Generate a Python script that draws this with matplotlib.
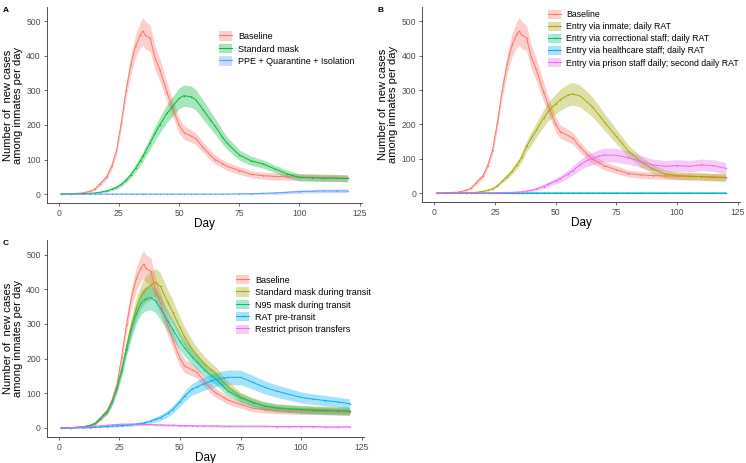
import matplotlib
matplotlib.use("Agg")
import matplotlib.pyplot as plt
from matplotlib.patches import Patch
from matplotlib.lines import Line2D

plt.rcParams['font.family'] = ['Liberation Sans', 'DejaVu Sans']

days = [1, 5, 10, 13, 15, 17, 20, 22, 24, 26, 28, 30, 32, 34, 35, 36, 38, 40, 42, 45,
        47, 50, 52, 55, 57, 60, 63, 65, 68, 70, 75, 80, 85, 90, 95, 100, 105, 110, 115, 120]

baseline = [0, 1, 3, 8, 14, 28, 50, 80, 125, 205, 300, 375, 430, 462, 472, 460, 452, 395, 360, 295,
            255, 200, 178, 168, 160, 135, 112, 100, 88, 80, 68, 57, 53, 51, 50, 49, 49, 48, 47, 46]
baseline_hw = [0.5, 1, 2, 3, 4, 6, 8, 10, 13, 18, 22, 28, 33, 38, 40, 40, 38, 35, 32, 28,
               25, 22, 20, 18, 17, 15, 14, 13, 12, 12, 11, 10, 10, 10, 10, 10, 10, 10, 10, 10]

# panel A
std_mask = [0, 0, 1, 2, 3, 5, 9, 14, 19, 28, 40, 56, 75, 97, 109, 122, 148, 176, 200, 234,
            251, 277, 285, 282, 273, 244, 215, 196, 165, 147, 113, 96, 87, 72, 58, 48, 47, 46, 46, 45]
std_mask_hw = [0.5, 0.5, 1, 1, 1, 2, 3, 4, 5, 6, 7, 9, 11, 13, 14, 15, 18, 20, 23, 26,
               28, 30, 31, 31, 30, 28, 25, 23, 20, 18, 15, 13, 12, 11, 11, 10, 10, 10, 10, 10]
ppe = [0, 0, 0, 0, 0, 0, 0, 0, 0, 0, 0, 0, 0, 0, 0, 0, 0, 0, 0, 0,
       0, 0, 0, 0, 0, 0, 0, 0, 0, 0, 0.5, 1, 2, 3, 5, 7, 8, 9, 9, 9]
ppe_hw = [1, 1, 1, 1, 1, 1, 1, 1, 1, 1, 1, 1, 1, 1, 1, 1, 1, 1, 1, 1,
          1, 1, 1, 1, 1, 1, 1, 1, 1, 1, 2, 3, 3, 4, 4, 5, 5, 5, 5, 5]

# panel B
entry_inmate = [0, 0, 0, 1, 1, 2, 5, 8, 13, 21, 35, 48, 63, 82, 92, 104, 136, 160, 183, 218,
                238, 260, 272, 285, 289, 283, 265, 252, 226, 208, 165, 122, 92, 70, 56, 51, 49, 48, 46, 45]
entry_inmate_hw = [0.5, 0.5, 0.5, 1, 1, 1, 2, 2, 3, 4, 6, 7, 9, 11, 12, 13, 16, 19, 21, 25,
                   27, 29, 31, 32, 33, 32, 30, 29, 27, 25, 21, 18, 15, 13, 12, 11, 11, 11, 11, 11]
entry_correctional = [0, 0, 0, 0, 0, 0, 0, 0, 0, 0, 0, 0, 0, 0, 0, 0, 0, 0, 0, 0,
                      0, 0, 0, 0, 0, 0, 0, 0, 0, 0, 0, 0, 0, 0, 0, 0, 0, 0, 0, 0]
entry_healthcare = [0, 0, 0, 0, 0, 0, 0, 0, 0, 0, 0, 0, 0, 0, 0, 0, 0, 0, 0, 0,
                    0, 0, 0, 0, 0, 0, 0, 0, 0, 0, 0, 0, 0, 0, 0, 0, 0, 0, 0, 0]
zero_hw = [3, 3, 3, 3, 3, 3, 3, 3, 3, 3, 3, 3, 3, 3, 3, 3, 3, 3, 3, 3,
           3, 3, 3, 3, 3, 3, 3, 3, 3, 3, 3, 3, 3, 3, 3, 3, 3, 3, 3, 3]
entry_prison = [0, 0, 0, 0, 0, 0, 0, 0, 1, 1, 1, 2, 2, 3, 3, 4, 6, 8, 12, 19,
                26, 35, 42, 55, 65, 82, 95, 100, 108, 111, 110, 103, 92, 82, 78, 80, 78, 82, 80, 72]
entry_prison_hw = [0.5, 0.5, 0.5, 0.5, 0.5, 0.5, 1, 1, 1, 1, 1, 2, 2, 2, 2, 2, 3, 4, 5, 6,
                   7, 9, 10, 12, 13, 15, 17, 18, 19, 20, 20, 19, 18, 17, 17, 17, 17, 17, 17, 17]

# panel C
std_transit = [0, 1, 3, 7, 13, 26, 47, 75, 115, 170, 235, 295, 345, 380, 392, 400, 412, 420, 408, 362,
               335, 290, 262, 228, 210, 186, 168, 157, 132, 118, 90, 75, 64, 59, 56, 54, 53, 52, 51, 50]
std_transit_hw = [0.5, 1, 2, 3, 4, 5, 7, 10, 13, 17, 21, 26, 31, 35, 37, 38, 40, 40, 39, 36,
                  34, 30, 28, 25, 23, 21, 19, 18, 16, 15, 13, 12, 12, 11, 11, 11, 11, 11, 11, 11]
n95_transit = [0, 1, 3, 7, 13, 26, 47, 75, 115, 165, 228, 285, 330, 360, 368, 373, 376, 366, 345, 308,
               285, 250, 230, 205, 190, 168, 150, 140, 118, 106, 87, 73, 63, 57, 55, 53, 51, 50, 49, 48]
n95_transit_hw = [0.5, 1, 2, 3, 4, 5, 7, 10, 13, 17, 21, 25, 29, 32, 34, 35, 35, 34, 33, 30,
                  28, 26, 24, 22, 21, 19, 17, 16, 15, 14, 13, 12, 12, 11, 11, 11, 11, 11, 11, 11]
rat_pre = [0, 0, 1, 1, 2, 3, 4, 5, 6, 7, 8, 9, 11, 13, 14, 16, 20, 25, 30, 42,
           53, 75, 92, 112, 118, 128, 136, 140, 144, 146, 146, 132, 117, 106, 97, 88, 83, 79, 75, 70]
rat_pre_hw = [0.5, 0.5, 1, 1, 1, 2, 2, 2, 3, 3, 3, 4, 4, 5, 5, 5, 6, 7, 8, 10,
              11, 13, 15, 17, 18, 19, 20, 20, 21, 21, 21, 20, 19, 18, 17, 16, 15, 15, 14, 14]
restrict = [0, 1, 2, 3, 5, 6, 8, 9, 10, 11, 11, 11, 11, 11, 10, 10, 10, 9, 9, 8,
            8, 7, 7, 7, 6, 6, 6, 6, 5, 5, 5, 5, 5, 4, 4, 4, 4, 3, 3, 3]
restrict_hw = [0.5, 1, 1, 2, 2, 2, 3, 3, 3, 3, 3, 3, 3, 3, 3, 3, 3, 3, 3, 3,
               3, 3, 3, 3, 3, 3, 3, 3, 3, 3, 3, 3, 3, 3, 3, 3, 3, 3, 3, 3]

labels_a = ["Baseline", "Standard mask", "PPE + Quarantine + Isolation"]
labels_b = ["Baseline", "Entry via inmate; daily RAT", "Entry via correctional staff; daily RAT",
            "Entry via healthcare staff; daily RAT", "Entry via prison staff daily; second daily RAT"]
labels_c = ["Baseline", "Standard mask during transit", "N95 mask during transit",
            "RAT pre-transit", "Restrict prison transfers"]

cols3 = ['#F8766D', '#00BA38', '#619CFF']
cols5 = ['#F8766D', '#A3A500', '#00BF7D', '#00B0F6', '#E76BF3']

YLAB = "Number of  new cases\namong inmates per day"


def draw_panel(ax, series, hws, labels, colors, tag, leg_anchor, leg_size):
    for y, hw, c in zip(series, hws, colors):
        lo = [v - h for v, h in zip(y, hw)]
        hi = [v + h for v, h in zip(y, hw)]
        ax.fill_between(days, lo, hi, color=c, alpha=0.35, lw=0)
    for y, c in zip(series, colors):
        ax.plot(days, y, color=c, lw=0.7, marker='o', ms=1.0, mew=0)

    ax.set_xlim(-4.95, 125.95)
    ax.set_ylim(-26, 542)
    ax.set_xticks([0, 25, 50, 75, 100, 125])
    ax.set_yticks([0, 100, 200, 300, 400, 500])
    for s in ['top', 'right']:
        ax.spines[s].set_visible(False)
    for s in ['left', 'bottom']:
        ax.spines[s].set_linewidth(0.6)
        ax.spines[s].set_color('#333333')
    ax.tick_params(labelsize=6.2, labelcolor='#4D4D4D', length=2.5, width=0.5,
                   color='#333333', pad=1.8)
    ax.set_xlabel("Day", fontsize=8.5, labelpad=0)
    ax.set_ylabel(YLAB, fontsize=8, labelpad=2.5, linespacing=1.0)
    ax.text(-0.14, 1.0, tag, transform=ax.transAxes, fontsize=6, fontweight='bold',
            va='top', ha='left')

    handles = []
    for c in colors:
        handles.append((Patch(facecolor=c, alpha=0.35, lw=0),
                        Line2D([], [], color=c, lw=0.7, marker='o', ms=1.2, mew=0)))
    ax.legend(handles, labels, loc='upper left', bbox_to_anchor=leg_anchor, frameon=False,
              fontsize=leg_size, handlelength=1.5, handleheight=1.2, handletextpad=0.6,
              labelspacing=0.3, borderpad=0, borderaxespad=0)


fig = plt.figure(figsize=(7.46, 4.63), dpi=100)
ax_a = fig.add_axes([0.0626, 0.5616, 0.4226, 0.4233])
ax_b = fig.add_axes([0.566, 0.5637, 0.426, 0.4213])
ax_c = fig.add_axes([0.0626, 0.0562, 0.4254, 0.4254])

draw_panel(ax_a, [baseline, std_mask, ppe], [baseline_hw, std_mask_hw, ppe_hw],
           labels_a, cols3, "A", (0.546, 0.875), 6.5)
draw_panel(ax_b, [baseline, entry_inmate, entry_correctional, entry_healthcare, entry_prison],
           [baseline_hw, entry_inmate_hw, zero_hw, zero_hw, entry_prison_hw],
           labels_b, cols5, "B", (0.396, 0.985), 6.3)
draw_panel(ax_c, [baseline, std_transit, n95_transit, rat_pre, restrict],
           [baseline_hw, std_transit_hw, n95_transit_hw, rat_pre_hw, restrict_hw],
           labels_c, cols5, "C", (0.596, 0.822), 6.5)

fig.savefig("out.png", dpi=100)
